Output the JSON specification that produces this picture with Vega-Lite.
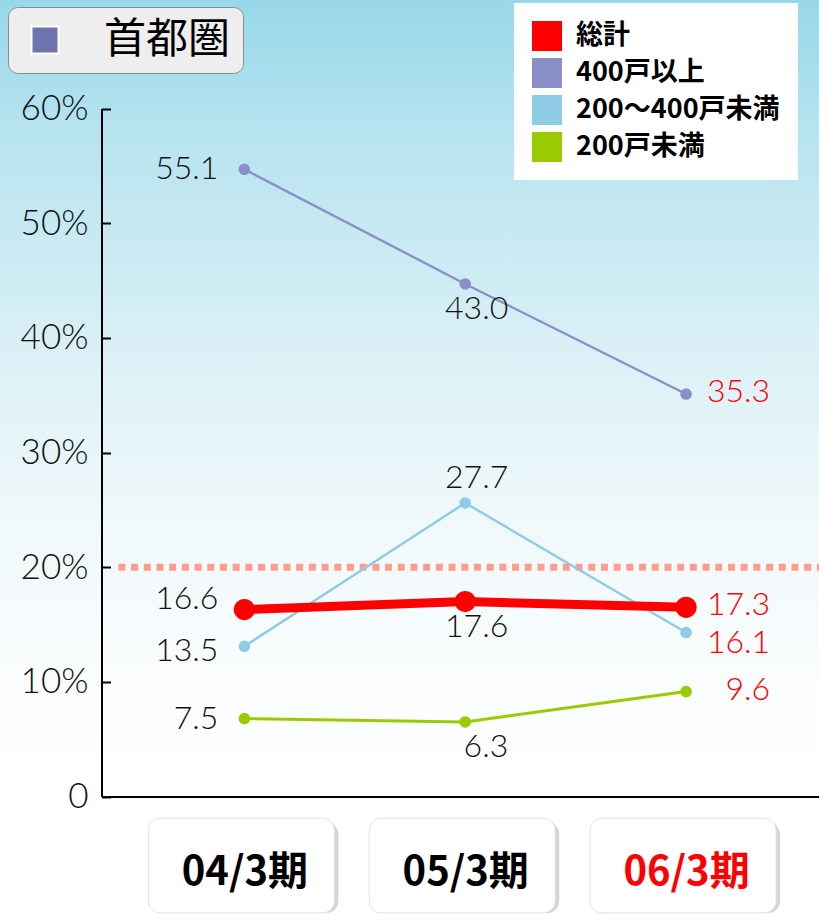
{
  "$schema": "https://vega.github.io/schema/vega-lite/v6.json",
  "width": 819,
  "height": 915,
  "autosize": {"type": "none"},
  "padding": 0,
  "background": "#ffffff",
  "view": {
    "stroke": null,
    "fill": {
      "gradient": "linear", "x1": 0, "y1": 0, "x2": 0, "y2": 1,
      "stops": [
        {"offset": 0, "color": "#98d8ea"},
        {"offset": 0.16, "color": "#b9e4f0"},
        {"offset": 0.38, "color": "#daf0f6"},
        {"offset": 0.55, "color": "#eef8fa"},
        {"offset": 0.72, "color": "#f9fcfd"},
        {"offset": 0.85, "color": "#ffffff"}
      ]
    }
  },
  "data": {
    "values": [
      {"period": "04/3期", "series": "400戸以上", "value": 54.7, "label": "55.1", "region": "首都圏"},
      {"period": "05/3期", "series": "400戸以上", "value": 44.7, "label": "43.0", "region": "首都圏"},
      {"period": "06/3期", "series": "400戸以上", "value": 35.1, "label": "35.3", "region": "首都圏"},
      {"period": "04/3期", "series": "200〜400戸未満", "value": 13.1, "label": "13.5", "region": "首都圏"},
      {"period": "05/3期", "series": "200〜400戸未満", "value": 25.6, "label": "27.7", "region": "首都圏"},
      {"period": "06/3期", "series": "200〜400戸未満", "value": 14.3, "label": "16.1", "region": "首都圏"},
      {"period": "04/3期", "series": "200戸未満", "value": 6.8, "label": "7.5", "region": "首都圏"},
      {"period": "05/3期", "series": "200戸未満", "value": 6.5, "label": "6.3", "region": "首都圏"},
      {"period": "06/3期", "series": "200戸未満", "value": 9.15, "label": "9.6", "region": "首都圏"},
      {"period": "04/3期", "series": "総計", "value": 16.3, "label": "16.6", "region": "首都圏"},
      {"period": "05/3期", "series": "総計", "value": 17.0, "label": "17.6", "region": "首都圏"},
      {"period": "06/3期", "series": "総計", "value": 16.5, "label": "17.3", "region": "首都圏"}
    ]
  },
  "encoding": {
    "x": {
      "field": "period", "type": "nominal",
      "scale": {"type": "point", "domain": ["04/3期", "05/3期", "06/3期"], "range": [101.5, 819], "padding": 0.6244, "align": 0.518},
      "axis": {
        "title": null, "orient": "bottom", "offset": -118.5, "grid": false,
        "domain": true, "domainColor": "#000000", "domainWidth": 2,
        "ticks": false, "tickSize": 0,
        "labelFont": "Noto Sans CJK JP", "labelFontWeight": "bold", "labelFontSize": 40,
        "labelColor": {"condition": {"test": "datum.value === '06/3期'", "value": "#ff0000"}, "value": "#000000"},
        "labelBaseline": "middle", "labelPadding": 76, "labelAngle": 0, "zindex": 2
      }
    },
    "y": {
      "field": "value", "type": "quantitative",
      "scale": {"domain": [0, 60], "range": [796.5, 108.5], "nice": false, "zero": true},
      "axis": {
        "title": null, "offset": -101.5, "grid": false,
        "values": [0, 10, 20, 30, 40, 50, 60],
        "labelExpr": "datum.value === 0 ? '0' : datum.value + '%'",
        "domainColor": "#000000", "domainWidth": 2,
        "tickColor": "#000000", "tickWidth": 2, "tickSize": -9,
        "labelFont": "Lato", "labelFontWeight": 300, "labelFontSize": 35, "labelColor": "#111111",
        "labelPadding": 22.5, "labelFlush": false, "labelOverlap": false, "labelBaseline": "middle"
      }
    }
  },
  "layer": [
    {
      "transform": [{"filter": "datum.series === '総計' && datum.period === '04/3期'"}],
      "mark": {"type": "rule", "color": "#ff9d8d", "strokeWidth": 7, "strokeDash": [7, 5.7], "xOffset": -126, "x2Offset": 133},
      "encoding": {"x": {"datum": "04/3期"}, "x2": {"datum": "06/3期"}, "y": {"datum": 20}}
    },
    {
      "transform": [{"filter": "datum.series === '総計'"}],
      "mark": {"type": "bar", "width": 186, "cornerRadius": 12, "color": "#888888", "opacity": 0.35, "xOffset": 1, "yOffset": 4},
      "encoding": {"y": {"datum": -1.9}, "y2": {"datum": -10.15}}
    },
    {
      "transform": [{"filter": "datum.series === '総計'"}],
      "mark": {"type": "bar", "width": 186, "cornerRadius": 12, "fill": "#ffffff", "stroke": "#e2e2e2", "strokeWidth": 1, "opacity": 1, "xOffset": -3},
      "encoding": {"y": {"datum": -1.9}, "y2": {"datum": -10.15}}
    },
    {
      "mark": {"type": "line"},
      "encoding": {
        "detail": {"field": "series", "type": "nominal"},
        "stroke": {
          "condition": [
            {"test": "datum.series === '総計'", "value": "#ff0000"},
            {"test": "datum.series === '400戸以上'", "value": "#8a8fc8"},
            {"test": "datum.series === '200〜400戸未満'", "value": "#8ecbe4"}
          ],
          "value": "#99cc00"
        },
        "strokeWidth": {
          "condition": [
            {"test": "datum.series === '総計'", "value": 9},
            {"test": "datum.series === '200戸未満'", "value": 3}
          ],
          "value": 2.4
        }
      }
    },
    {
      "mark": {"type": "point", "filled": true, "strokeWidth": 0},
      "encoding": {
        "color": {
          "field": "series", "type": "nominal",
          "scale": {"domain": ["総計", "400戸以上", "200〜400戸未満", "200戸未満"], "range": ["#ff0000", "#8a8fc8", "#8ecbe4", "#99cc00"]},
          "legend": {
            "title": null, "orient": "none", "legendX": 514, "legendY": 3, "padding": 18,
            "fillColor": "#ffffff", "symbolType": "square", "symbolSize": 900,
            "symbolStrokeWidth": 0, "symbolOpacity": 1,
            "labelFont": "Noto Sans CJK JP", "labelFontWeight": "bold", "labelFontSize": 27,
            "labelColor": "#000000", "labelOffset": 14, "labelLimit": 400, "rowPadding": 7
          }
        },
        "size": {"condition": {"test": "datum.series === '総計'", "value": 450}, "value": 135},
        "opacity": {
          "field": "region", "type": "ordinal", "scale": {"range": [1, 1]},
          "legend": {
            "title": null, "orient": "none", "legendX": 8, "legendY": 7, "padding": 12,
            "symbolOffset": 4, "fillColor": "#eeeeee", "strokeColor": "#8c8c8c", "cornerRadius": 10,
            "symbolType": "square", "symbolSize": 729, "symbolFillColor": "#6f74ad",
            "symbolStrokeColor": "#ffffff", "symbolStrokeWidth": 2, "symbolOpacity": 1,
            "labelFont": "Noto Sans CJK JP", "labelFontSize": 42, "labelColor": "#000000",
            "labelOffset": 38, "labelLimit": 400
          }
        }
      }
    },
    {
      "transform": [{"filter": "datum.period === '04/3期' && datum.series !== '総計' && datum.series !== '200〜400戸未満'"}],
      "mark": {"type": "text", "font": "Lato", "fontWeight": 300, "fontSize": 32, "baseline": "middle", "align": "right", "color": "#111111", "dx": -26, "dy": 0},
      "encoding": {"text": {"field": "label"}}
    },
    {
      "transform": [{"filter": "datum.period === '04/3期' && datum.series === '総計'"}],
      "mark": {"type": "text", "font": "Lato", "fontWeight": 300, "fontSize": 32, "baseline": "middle", "align": "right", "color": "#111111", "dx": -26, "dy": -11},
      "encoding": {"text": {"field": "label"}}
    },
    {
      "transform": [{"filter": "datum.period === '04/3期' && datum.series === '200〜400戸未満'"}],
      "mark": {"type": "text", "font": "Lato", "fontWeight": 300, "fontSize": 32, "baseline": "middle", "align": "right", "color": "#111111", "dx": -26, "dy": 5},
      "encoding": {"text": {"field": "label"}}
    },
    {
      "transform": [{"filter": "datum.period === '05/3期' && datum.series !== '200〜400戸未満'"}],
      "mark": {"type": "text", "font": "Lato", "fontWeight": 300, "fontSize": 32, "baseline": "middle", "align": "right", "color": "#111111", "dx": 43, "dy": 25},
      "encoding": {"text": {"field": "label"}}
    },
    {
      "transform": [{"filter": "datum.period === '05/3期' && datum.series === '200〜400戸未満'"}],
      "mark": {"type": "text", "font": "Lato", "fontWeight": 300, "fontSize": 32, "baseline": "middle", "align": "right", "color": "#111111", "dx": 43, "dy": -25},
      "encoding": {"text": {"field": "label"}}
    },
    {
      "transform": [{"filter": "datum.period === '06/3期' && datum.series !== '200〜400戸未満'"}],
      "mark": {"type": "text", "font": "Lato", "fontWeight": 300, "fontSize": 32, "baseline": "middle", "align": "right", "color": "#ff0000", "dx": 84, "dy": -2},
      "encoding": {"text": {"field": "label"}}
    },
    {
      "transform": [{"filter": "datum.period === '06/3期' && datum.series === '200〜400戸未満'"}],
      "mark": {"type": "text", "font": "Lato", "fontWeight": 300, "fontSize": 32, "baseline": "middle", "align": "right", "color": "#ff0000", "dx": 84, "dy": 10},
      "encoding": {"text": {"field": "label"}}
    }
  ]
}
